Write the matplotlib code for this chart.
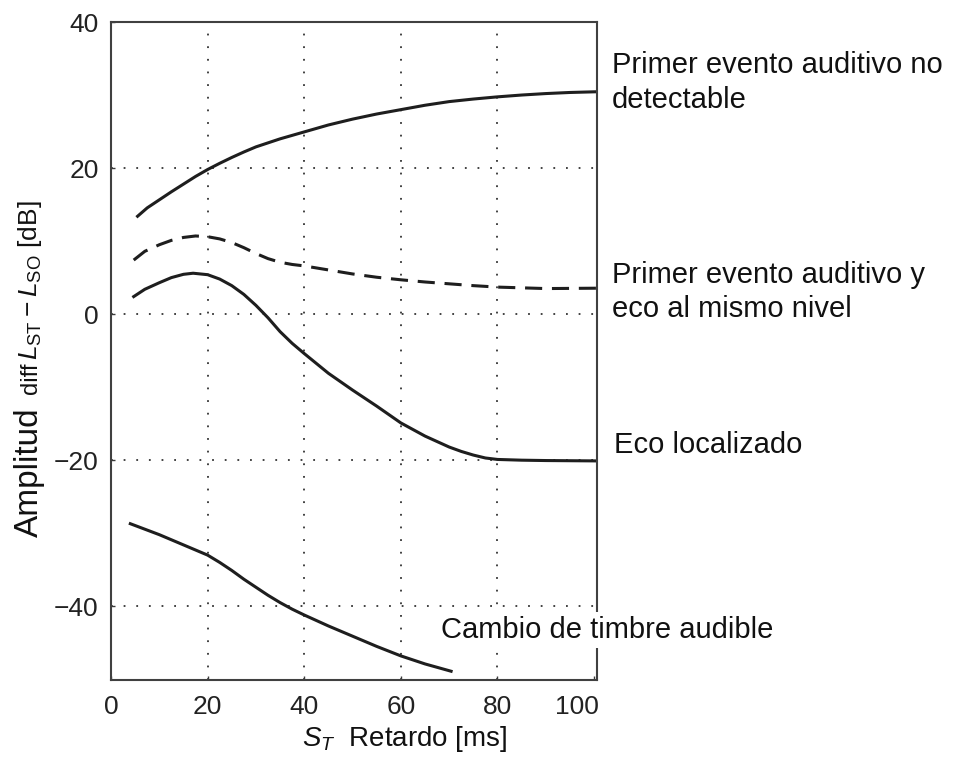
import matplotlib
matplotlib.use("Agg")
import matplotlib.pyplot as plt
from matplotlib.transforms import ScaledTranslation

plt.rcParams["font.family"] = ["Liberation Sans", "DejaVu Sans"]
plt.rcParams["mathtext.fontset"] = "custom"
plt.rcParams["mathtext.rm"] = "Liberation Sans"
plt.rcParams["mathtext.it"] = "Liberation Sans:italic"
plt.rcParams["mathtext.bf"] = "Liberation Sans:bold"

# Threshold curves: delay S_T [ms] vs. level difference L_ST - L_SO [dB]
x_no_detect = [5.5, 7.5, 10, 12.5, 15, 17.5, 20, 22.5, 25, 27.5, 30, 35, 40, 45, 50,
               55, 60, 65, 70, 75, 80, 85, 90, 95, 100.6]
y_no_detect = [13.4, 14.55, 15.65, 16.75, 17.8, 18.85, 19.8, 20.65, 21.45, 22.2, 22.9,
               24.0, 24.95, 25.9, 26.7, 27.4, 28.0, 28.6, 29.1, 29.45, 29.75, 30.0,
               30.2, 30.35, 30.45]

x_same_level = [4.7, 7, 10, 12.5, 15, 17.5, 20, 22.5, 25, 27.5, 30, 32.5, 35, 37.5, 40,
                45, 50, 55, 60, 65, 70, 75, 80, 90, 100.6]
y_same_level = [7.4, 8.6, 9.5, 10.1, 10.5, 10.7, 10.6, 10.3, 9.8, 9.1, 8.3, 7.6, 7.1,
                6.8, 6.6, 6.05, 5.5, 5.05, 4.7, 4.4, 4.15, 3.9, 3.7, 3.5, 3.55]

x_echo = [4.7, 7, 10, 12.5, 15, 17, 20, 22.5, 25, 27.5, 30, 32.5, 35, 37.5, 40, 45, 50,
          55, 60, 65, 70, 72.5, 75, 77.5, 80, 85, 90, 100.6]
y_echo = [2.4, 3.4, 4.3, 5.0, 5.45, 5.6, 5.4, 4.8, 3.9, 2.7, 1.2, -0.5, -2.4, -4.0, -5.4,
          -8.1, -10.4, -12.6, -14.9, -16.7, -18.2, -18.8, -19.3, -19.7, -19.9, -20.0,
          -20.05, -20.1]

x_timbre = [4.0, 10, 15, 20, 22.5, 25, 27.5, 30, 32.5, 35, 37.5, 40, 45, 50, 55, 60, 65,
            70.4]
y_timbre = [-28.7, -30.2, -31.6, -33.0, -34.0, -35.1, -36.3, -37.4, -38.5, -39.5, -40.4,
            -41.2, -42.7, -44.1, -45.5, -46.8, -47.9, -48.9]

xticks = [0, 20, 40, 60, 80, 100]
yticks = [-40, -20, 0, 20, 40]

W, H = 955, 762
fig = plt.figure(figsize=(W / 100, H / 100), dpi=100)
ax = fig.add_axes([111 / W, 82 / H, 486 / W, 658 / H])

line_kw = dict(color="#1e1e1e", linewidth=2.2, solid_joinstyle="round")
ax.plot(x_no_detect, y_no_detect, **line_kw)
ax.plot(x_same_level, y_same_level, color="#1e1e1e", linewidth=2.2,
        linestyle=(0, (5.6, 3.2)), dash_joinstyle="round")
ax.plot(x_echo, y_echo, **line_kw)
ax.plot(x_timbre, y_timbre, **line_kw)

ax.set_xlim(0.25, 100.6)
ax.set_ylim(-50.1, 39.8)
ax.set_xticks(xticks)
ax.set_yticks(yticks)
ax.set_xticklabels([str(v) for v in xticks])
ax.set_yticklabels([f"{v}".replace("-", "\u2212") for v in yticks])

# dotted grid at the interior ticks
grid_kw = dict(color="#333333", linewidth=1.3, linestyle=(0, (1, 6)), zorder=0)
for v in xticks[1:-1]:
    ax.axvline(v, **grid_kw)
for v in yticks[:-1]:
    ax.axhline(v, **grid_kw)

ax.tick_params(axis="both", direction="in", length=3, width=1,
               labelsize=19, colors="#3a3a3a", labelcolor="#222222")
ax.tick_params(axis="x", pad=11)
ax.tick_params(axis="y", pad=9)
for s in ax.spines.values():
    s.set_color("#404040")
    s.set_linewidth(1.5)

# keep the last x label inside the frame
last = ax.xaxis.get_major_ticks()[-1].label1
last.set_transform(last.get_transform() + ScaledTranslation(-0.17, 0, fig.dpi_scale_trans))


def ftext(px, baseline, s, **kw):
    return fig.text(px / W, 1 - baseline / H, s, va="baseline", ha="left",
                    color="#111111", **kw)


ftext(612, 73, "Primer evento auditivo no", fontsize=21)
ftext(612, 108, "detectable", fontsize=21)
ftext(612, 283, "Primer evento auditivo y", fontsize=21)
ftext(612, 317, "eco al mismo nivel", fontsize=21)
ftext(614, 453, "Eco localizado", fontsize=21)
ftext(441, 638, "Cambio de timbre audible", fontsize=21,
      bbox=dict(facecolor="white", edgecolor="none", pad=3))

# axis titles
ftext(302, 746, r"$S_T$  Retardo [ms]", fontsize=20)


def ytext(px, start, s, size):
    fig.text(px / W, 1 - start / H, s, rotation=90, rotation_mode="anchor",
             ha="left", va="baseline", fontsize=size, color="#111111")


ytext(38, 537, "Amplitud", 24)
ytext(37, 394, "diff", 17)
ytext(37, 360, r"$L_{\mathrm{ST}} - L_{\mathrm{SO}}$ [dB]", 19)

fig.savefig("out.png", dpi=100, facecolor="white")
